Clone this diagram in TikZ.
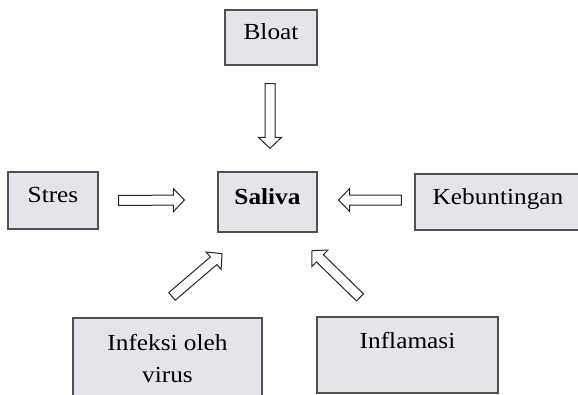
\documentclass[tikz,border=0pt]{standalone}
\usepackage{fontspec}
\setmainfont[FakeStretch=1.1]{Liberation Serif}
\usetikzlibrary{calc}

\definecolor{boxfill}{RGB}{227,229,234}
\definecolor{boxline}{RGB}{80,80,80}

\newcommand{\boxfont}{\fontsize{23}{32}\selectfont}

% hollow block arrow, tail #1, tip #2
\newcommand{\hollowarrow}[2]{%
  \coordinate (th) at ($(#2)!11pt!(#1)$);
  \draw[flowarrow] ($(#1)!5pt!90:(#2)$) -- ($(th)!5pt!90:(#2)$)
    -- ($(th)!11.5pt!90:(#2)$) -- (#2) -- ($(th)!11.5pt!-90:(#2)$)
    -- ($(th)!5pt!-90:(#2)$) -- ($(#1)!5pt!-90:(#2)$) -- cycle;
}

\begin{document}
\begin{tikzpicture}[x=1pt,y=-1pt,
  box/.style={draw=boxline, fill=boxfill, line width=1.2pt, inner sep=0pt, font=\boxfont},
  oneline/.style={text height=16pt, text depth=12pt},
  flowarrow/.style={draw=black!85, fill=white, line width=1pt, line join=miter}]

  \useasboundingbox (0,0) rectangle (578,394);
  \clip (0,0) rectangle (578,394);

  % ----------------------------------------------------------------
  % boxes
  % ----------------------------------------------------------------
  \node[box, oneline, minimum width=92pt, minimum height=55pt] (bloat) at (271,37.5) {Bloat};
  \node[box, oneline, minimum width=90pt, minimum height=57pt] (stres) at (53,200.5) {Stres};
  \node[box, oneline, minimum width=99pt, minimum height=60pt] (saliva) at (267.5,202) {\bfseries Saliva};
  \node[box, oneline, minimum width=166pt, minimum height=56pt] (hamil) at (498,202) {Kebuntingan};
  \node[box, align=center, minimum width=189pt, minimum height=82pt] (infeksi) at (167.5,359)
    {Infeksi oleh\\virus};
  \node[box, text height=16pt, text depth=30pt, minimum width=181pt, minimum height=76pt]
    (radang) at (407.5,355) {Inflamasi};

  % ----------------------------------------------------------------
  % arrows into saliva
  % ----------------------------------------------------------------
  \coordinate (bloat-a) at ($(bloat.south)+(-1,18)$);
  \coordinate (bloat-b) at ($(saliva.north)+(2.5,-23)$);
  \coordinate (stres-a) at ($(stres.east)+(20,0)$);
  \coordinate (stres-b) at ($(saliva.west)+(-33,-2)$);
  \coordinate (hamil-a) at ($(hamil.west)+(-13,-2)$);
  \coordinate (hamil-b) at ($(saliva.east)+(21,-2)$);
  \coordinate (infeksi-a) at ($(infeksi.north)+(4.5,-21)$);
  \coordinate (infeksi-b) at ($(saliva.south)+(-45.5,21)$);
  \coordinate (radang-a) at ($(radang.north)+(-47.5,-19)$);
  \coordinate (radang-b) at ($(saliva.south)+(44.5,18)$);

  \foreach \a/\b in {bloat-a/bloat-b, stres-a/stres-b, hamil-a/hamil-b,
                     infeksi-a/infeksi-b, radang-a/radang-b} {
    \hollowarrow{\a}{\b}
  }

\end{tikzpicture}
\end{document}
